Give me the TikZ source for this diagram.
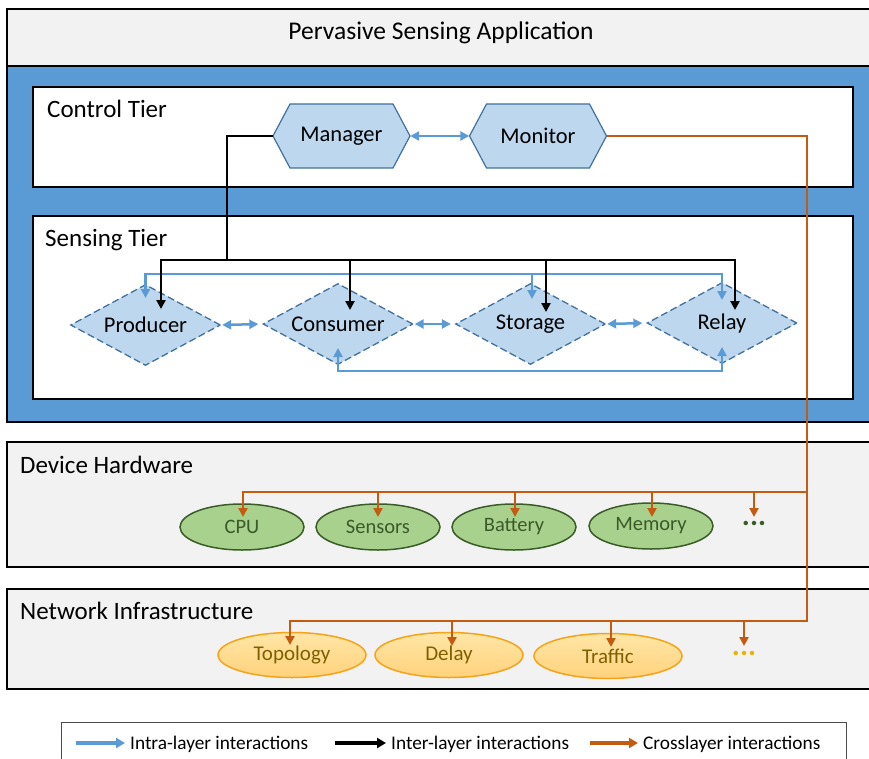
\documentclass[tikz,border=0pt]{standalone}
\usepackage{fontspec}
\setmainfont{Carlito}
\usetikzlibrary{shapes.geometric,arrows.meta,calc}

\definecolor{panelgray}{HTML}{F2F2F2}
\definecolor{bandblue}{HTML}{5B9BD5}
\definecolor{paleblue}{HTML}{BDD7EE}
\definecolor{edgeblue}{HTML}{41719C}
\definecolor{intrablue}{HTML}{5B9BD5}
\definecolor{crossorange}{HTML}{C55A11}
\definecolor{hwfill}{HTML}{A9D18E}
\definecolor{hwedge}{HTML}{3A5D27}
\definecolor{hwtext}{HTML}{3B5A2A}
\definecolor{netfilltop}{HTML}{FFE6A6}
\definecolor{netfillbot}{HTML}{FFD27C}
\definecolor{netedge}{HTML}{F5A31A}
\definecolor{nettext}{HTML}{7F6000}
\definecolor{netdots}{HTML}{E8B400}

\newcommand{\hexpath}[1]{($(#1)+(-68.5,0)$) -- ($(#1)+(-51.5,-32)$) -- ($(#1)+(51.5,-32)$) -- ($(#1)+(68.5,0)$) -- ($(#1)+(51.5,32)$) -- ($(#1)+(-51.5,32)$) -- cycle}

\tikzset{
  panel/.style={draw=black, line width=2pt, fill=panelgray},
  band/.style={draw=black, line width=2pt, fill=bandblue},
  tierbox/.style={draw=black, line width=2.5pt, fill=white},
  title/.style={anchor=base, inner sep=0, font=\fontsize{25.5}{30}\selectfont},
  tierlabel/.style={anchor=base west, inner sep=0, font=\fontsize{25}{30}\selectfont},
  hexline/.style={draw=edgeblue, line width=1.2pt, fill=paleblue},
  hexnode/.style={rectangle, minimum width=137pt, minimum height=64pt, inner sep=0, font=\fontsize{22.5}{27}\selectfont},
  rolenode/.style={diamond, aspect=1.85, draw=edgeblue, dash pattern=on 7pt off 3.5pt, line width=1.3pt, fill=paleblue,
    minimum width=150pt, minimum height=81pt, inner sep=0, font=\fontsize{22.5}{27}\selectfont},
  hwnode/.style={ellipse, draw=hwedge, line width=1.5pt, fill=hwfill, minimum width=124pt, minimum height=46pt,
    inner sep=0, text=hwtext, font=\fontsize{20.5}{24}\selectfont},
  netnode/.style={ellipse, draw=netedge, line width=1.5pt, top color=netfilltop, bottom color=netfillbot,
    minimum width=148pt, minimum height=45pt, inner sep=0, text=nettext, font=\fontsize{21}{25}\selectfont},
  moredots/.style={inner sep=0, font=\bfseries\fontsize{30}{34}\selectfont},
  intra/.style={draw=intrablue, line width=2.5pt},
  inter/.style={draw=black, line width=2.4pt},
  cross/.style={draw=crossorange, line width=2.4pt},
  legendline/.style={line width=3.2pt, -{Triangle[length=9pt,width=10pt]}},
  legendtext/.style={anchor=base west, inner sep=0, font=\fontsize{19.3}{23}\selectfont},
  >={Triangle[length=9pt,width=9pt]}
}

\begin{document}
\begin{tikzpicture}[x=1pt,y=-1pt]
\useasboundingbox (0,0) rectangle (869,759);
\clip (0,0) rectangle (869,759);

% layer panels
\draw[panel] (7,9) rectangle (885,66);
\draw[band] (7,66) rectangle (885,422);
\draw[tierbox] (33,87) rectangle (853,187);
\draw[tierbox] (33,216) rectangle (853,399);
\draw[panel] (7,442) rectangle (885,567);
\draw[panel] (7,589) rectangle (885,689);

\node[title] (apptitle) at (441,40) {Pervasive Sensing Application};
\node[tierlabel] (ctl) at (47,118) {Control Tier};
\node[tierlabel] (stl) at (45,247) {Sensing Tier};
\node[tierlabel] (dhl) at (20,473) {Device Hardware};
\node[tierlabel] (nil) at (20,619) {Network Infrastructure};

% control tier
\coordinate (manc) at (341.5,136);
\coordinate (monc) at (538,136);
\path[hexline] \hexpath{manc};
\path[hexline] \hexpath{monc};
\node[hexnode] (man) at (manc) {Manager};
\node[hexnode] (mon) at (monc) {Monitor};

% sensing tier
\node[rolenode] (prod) at (145.5,325) {Producer};
\node[rolenode] (cons) at (338,324) {Consumer};
\node[rolenode] (stor) at (530.5,324) {Storage};
\node[rolenode] (rel) at (722,323) {Relay};

% device hardware
\node[hwnode] (cpu) at (242,527) {CPU};
\node[hwnode] (sens) at (378,527) {Sensors};
\node[hwnode] (batt) at (514,527) {Battery};
\node[hwnode] (mem) at (651,526) {Memory};
\node[moredots, text=hwedge] (hwmore) at (754,523) {...};

% network infrastructure
\node[netnode] (topo) at (292,655) {Topology};
\node[netnode] (dly) at (449,655) {Delay};
\node[netnode] (traf) at (608,656) {Traffic};
\node[moredots, text=netdots] (netmore) at (744,653) {...};

% intra-layer interactions
\draw[intra,<->] (man.east) -- (mon.west);
\draw[intra,<->,shorten <=1pt,shorten >=4pt] (prod.east) -- (cons.west);
\draw[intra,<->,shorten <=1pt,shorten >=4pt] (cons.east) -- (stor.west);
\draw[intra,<->,shorten <=1pt,shorten >=4pt] (stor.east) -- (rel.west);
\coordinate (prodin) at ($(prod)+(0,-27)$);
\coordinate (storin) at ($(stor)+(1.5,-25)$);
\coordinate (relin) at ($(rel)+(0,-23)$);
\coordinate (bluetop) at ($(rel)+(0,-49)$);
\draw[intra,<->] (prodin) |- (bluetop) -- (relin);
\draw[intra,->] (storin |- bluetop) -- (storin);
\coordinate (consup) at ($(cons)+(0,24)$);
\coordinate (relup) at ($(rel)+(0,24)$);
\coordinate (bluebot) at ($(rel)+(0,48)$);
\draw[intra,<->] (consup) |- (bluebot) -- (relup);

% inter-layer interactions
\coordinate (bj) at (227,260);
\coordinate (prodblk) at ($(prod)+(15.5,-16)$);
\coordinate (consblk) at ($(cons)+(12,-14)$);
\coordinate (storblk) at ($(stor)+(15.5,-12)$);
\coordinate (relblk) at ($(rel)+(13,-13)$);
\draw[inter] (man.west) -| (bj);
\draw[inter,->] (bj) -| (prodblk);
\draw[inter,->] (bj) -| (relblk);
\draw[inter,->] (consblk |- bj) -- (consblk);
\draw[inter,->] (storblk |- bj) -- (storblk);

% cross-layer interactions
\coordinate (hj) at (807,492);
\coordinate (nj) at (807,621);
\coordinate (cpuin) at ($(cpu)+(1,-10)$);
\coordinate (sensin) at ($(sens)+(0,-10)$);
\coordinate (battin) at ($(batt)+(1,-10)$);
\coordinate (memin) at ($(mem)+(1,-9)$);
\coordinate (hwmorein) at ($(hwmore)+(0,-6)$);
\coordinate (topoin) at ($(topo)+(-2,-10)$);
\coordinate (dlyin) at ($(dly)+(3,-9)$);
\coordinate (trafin) at ($(traf)+(3,-9)$);
\coordinate (netmorein) at ($(netmore)+(0,-7)$);
\draw[cross,->] (mon.east) -| (nj) -| (topoin);
\draw[cross,->] (hj) -| (cpuin);
\draw[cross,->] (sensin |- hj) -- (sensin);
\draw[cross,->] (battin |- hj) -- (battin);
\draw[cross,->] (memin |- hj) -- (memin);
\draw[cross,->] (hwmorein |- hj) -- (hwmorein);
\draw[cross,->] (dlyin |- nj) -- (dlyin);
\draw[cross,->] (trafin |- nj) -- (trafin);
\draw[cross,->] (netmorein |- nj) -- (netmorein);

% legend
\draw[line width=1pt, draw=black!70] (61,722) rectangle (846,775);
\coordinate (la1) at (76,743); \coordinate (lb1) at (125,743);
\coordinate (la2) at (335,743); \coordinate (lb2) at (386,743);
\coordinate (la3) at (590,743); \coordinate (lb3) at (638,743);
\draw[legendline, intrablue] (la1) -- (lb1);
\draw[legendline, black] (la2) -- (lb2);
\draw[legendline, crossorange] (la3) -- (lb3);
\node[legendtext] (lt1) at (130,749) {Intra-layer interactions};
\node[legendtext] (lt2) at (391,749) {Inter-layer interactions};
\node[legendtext] (lt3) at (643,749) {Crosslayer interactions};
\end{tikzpicture}
\end{document}
